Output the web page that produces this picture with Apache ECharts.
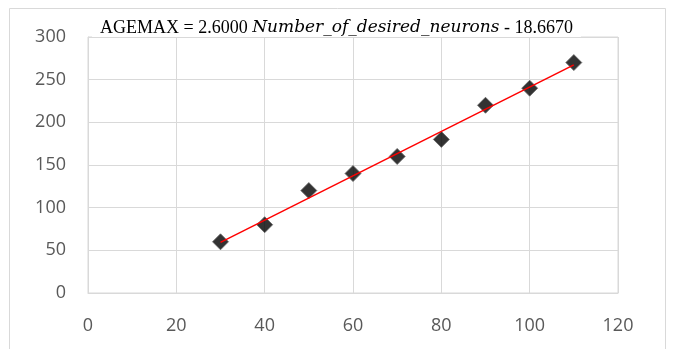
<!DOCTYPE html>
<html>
<head>
<meta charset="utf-8">
<script src="https://cdn.jsdelivr.net/npm/echarts@6/dist/echarts.min.js"></script>
<style>
  html, body { margin: 0; padding: 0; background: #fff; }
  #chart { width: 673px; height: 349px; }
</style>
</head>
<body>
<div id="chart"></div>
<script>
// desired neurons vs AGEMAX
var neurons = [30, 40, 50, 60, 70, 80, 90, 100, 110];
var agemax = [60, 80, 120, 140, 160, 180, 220, 240, 270];
var slope = 2.6;
var intercept = -18.667;
var trendRange = [30, 110];

var points = neurons.map(function (n, i) { return [n, agemax[i]]; });
var trend = trendRange.map(function (x) { return [x, slope * x + intercept]; });

var grey = '#d9d9d9';
var labelColor = '#595959';

var chart = echarts.init(document.getElementById('chart'));
chart.setOption({
    backgroundColor: '#fff',
    animation: false,
    graphic: [{
        type: 'rect',
        shape: { x: 9.5, y: 8.5, width: 656, height: 345 },
        style: { fill: 'none', stroke: grey, lineWidth: 1 },
        z: 0
    }],
    title: {
        text: '{n|AGEMAX = 2.6000 }{i|Number_of_desired_neurons}{n| - 18.6670}',
        left: 'center',
        top: 19,
        padding: [0, 8],
        backgroundColor: '#fff',
        textStyle: {
            rich: {
                n: { fontFamily: 'Liberation Serif', fontWeight: 'normal', fontSize: 18, color: '#000' },
                i: { fontFamily: 'DejaVu Serif', fontStyle: 'italic', fontWeight: 'normal', fontSize: 17, color: '#000' }
            }
        },
        z: 10
    },
    grid: { left: 88, right: 55, top: 37, bottom: 56, show: true, borderColor: grey, borderWidth: 1 },
    xAxis: {
        type: 'value', min: 0, max: 120, interval: 20,
        axisLine: { show: true, lineStyle: { color: grey } },
        axisTick: { show: false },
        splitLine: { lineStyle: { color: grey } },
        axisLabel: { color: labelColor, fontSize: 18, fontFamily: 'Open Sans', margin: 24 }
    },
    yAxis: {
        type: 'value', min: 0, max: 300, interval: 50,
        axisLine: { show: true, lineStyle: { color: grey } },
        axisTick: { show: false },
        splitLine: { lineStyle: { color: grey } },
        axisLabel: { color: labelColor, fontSize: 18, fontFamily: 'Open Sans', margin: 22 }
    },
    series: [
        {
            type: 'line',
            data: trend,
            symbol: 'none',
            lineStyle: { color: '#ff0000', width: 1.5 },
            z: 3
        },
        {
            type: 'scatter',
            data: points,
            symbol: 'diamond',
            symbolSize: [16, 16],
            itemStyle: { color: '#000', borderColor: '#666', borderWidth: 1 },
            z: 2
        }
    ]
});
</script>
</body>
</html>
